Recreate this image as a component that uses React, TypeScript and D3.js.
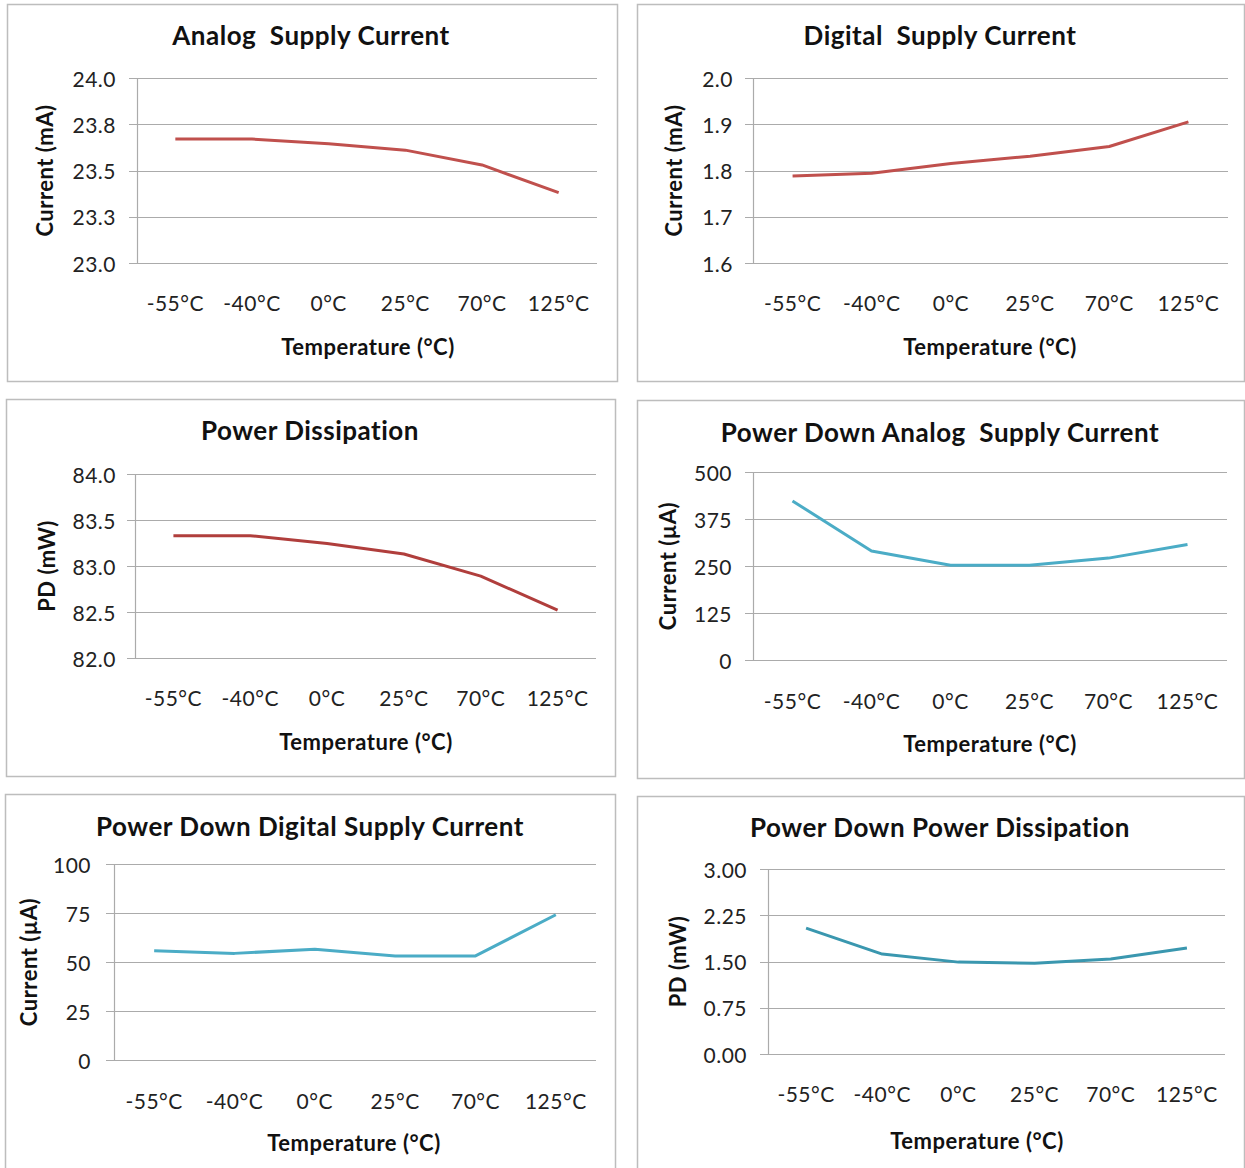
import React from "react";
import * as d3 from "d3";

// categories (x axis)
const temps = ["-55°C", "-40°C", "0°C", "25°C", "70°C", "125°C"];

// series values
const analogCurrent = [23.67, 23.67, 23.645, 23.61, 23.53, 23.38];
const digitalCurrent = [1.788, 1.794, 1.815, 1.831, 1.852, 1.905];
const powerDiss = [83.33, 83.33, 83.245, 83.13, 82.89, 82.52];
const pdAnalogCurrent = [423, 290, 252, 252, 271, 307];
const pdDigitalCurrent = [55.8, 54.4, 56.5, 53.1, 53.1, 74.1];
const pdPowerDiss = [2.04, 1.62, 1.49, 1.47, 1.54, 1.72];

// y ticks and their labels
const analogTicks = [23.0, 23.25, 23.5, 23.75, 24.0];
const analogTickLabels = ["23.0", "23.3", "23.5", "23.8", "24.0"];
const digitalTicks = [1.6, 1.7, 1.8, 1.9, 2.0];
const digitalTickLabels = ["1.6", "1.7", "1.8", "1.9", "2.0"];
const powerTicks = [82.0, 82.5, 83.0, 83.5, 84.0];
const powerTickLabels = ["82.0", "82.5", "83.0", "83.5", "84.0"];
const pdAnalogTicks = [0, 125, 250, 375, 500];
const pdAnalogTickLabels = ["0", "125", "250", "375", "500"];
const pdDigitalTicks = [0, 25, 50, 75, 100];
const pdDigitalTickLabels = ["0", "25", "50", "75", "100"];
const pdPowerTicks = [0, 0.75, 1.5, 2.25, 3.0];
const pdPowerTickLabels = ["0.00", "0.75", "1.50", "2.25", "3.00"];

const FONT = "Lato, 'Open Sans', sans-serif";
const GRID = "#ABABAB";

type PanelProps = {
  frame: [number, number, number, number];
  plot: { l: number; r: number; t: number; b: number };
  title: string;
  titleX: number;
  titleY: number;
  yTitle: string;
  yTitleX: number;
  yLabelRight: number;
  xLabelY: number;
  xTitleX: number;
  xTitleY: number;
  ticks: number[];
  tickLabels: string[];
  values: number[];
  color: string;
};

const Panel = (p: PanelProps) => {
  const x = d3.scaleBand().domain(temps).range([p.plot.l, p.plot.r]).padding(0);
  const y = d3
    .scaleLinear()
    .domain([p.ticks[0], p.ticks[p.ticks.length - 1]])
    .range([p.plot.b, p.plot.t]);
  const line = d3
    .line<number>()
    .x((_, i) => (x(temps[i]) as number) + x.bandwidth() / 2)
    .y((d) => y(d));
  const midY = (p.plot.t + p.plot.b) / 2;

  return (
    <g>
      <rect
        x={p.frame[0] + 0.5}
        y={p.frame[1] + 0.5}
        width={p.frame[2]}
        height={p.frame[3]}
        fill="white"
        stroke="#BDBDBD"
        strokeWidth={1.5}
      />
      <text
        x={p.titleX}
        y={p.titleY}
        textAnchor="middle"
        dominantBaseline="central"
        fontFamily={FONT}
        fontWeight="bold"
        fontSize={26}
        letterSpacing={0.5}
        fill="#111"
        style={{ whiteSpace: "pre" }}
      >
        {p.title}
      </text>
      {p.ticks.map((t, i) => (
        <g key={t}>
          <line
            x1={p.plot.l - 8}
            x2={p.plot.r}
            y1={Math.round(y(t)) + 0.5}
            y2={Math.round(y(t)) + 0.5}
            stroke={GRID}
            strokeWidth={1.2}
          />
          <text
            x={p.yLabelRight}
            y={y(t)}
            textAnchor="end"
            dominantBaseline="central"
            fontFamily={FONT}
            fontSize={21}
            letterSpacing={0.5}
            fill="#222"
          >
            {p.tickLabels[i]}
          </text>
        </g>
      ))}
      <line
        x1={p.plot.l + 0.5}
        x2={p.plot.l + 0.5}
        y1={p.plot.t}
        y2={p.plot.b}
        stroke={GRID}
        strokeWidth={1.2}
      />
      {temps.map((c) => (
        <text
          key={c}
          x={(x(c) as number) + x.bandwidth() / 2}
          y={p.xLabelY}
          textAnchor="middle"
          dominantBaseline="central"
          fontFamily={FONT}
          fontSize={21}
          letterSpacing={0.5}
          fill="#222"
        >
          {c}
        </text>
      ))}
      <path
        d={line(p.values) || ""}
        fill="none"
        stroke={p.color}
        strokeWidth={3}
        strokeLinejoin="round"
      />
      <text
        x={p.xTitleX}
        y={p.xTitleY}
        textAnchor="middle"
        dominantBaseline="central"
        fontFamily={FONT}
        fontWeight="bold"
        fontSize={22}
        letterSpacing={0.5}
        fill="#111"
      >
        Temperature (°C)
      </text>
      <text
        transform={`translate(${p.yTitleX},${midY}) rotate(-90)`}
        textAnchor="middle"
        dominantBaseline="central"
        fontFamily={FONT}
        fontWeight="bold"
        fontSize={22}
        letterSpacing={0.5}
        fill="#111"
      >
        {p.yTitle}
      </text>
    </g>
  );
};

const App = () => {
  return (
    <svg
      width={1245}
      height={1168}
      style={{ position: "absolute", left: 0, top: 0, background: "white" }}
    >
      <Panel
        frame={[7, 4, 610, 377]}
        plot={{ l: 137, r: 597, t: 78, b: 263 }}
        title="Analog  Supply Current"
        titleX={311}
        titleY={35}
        yTitle="Current (mA)"
        yTitleX={44}
        yLabelRight={116}
        xLabelY={302}
        xTitleX={368}
        xTitleY={346}
        ticks={analogTicks}
        tickLabels={analogTickLabels}
        values={analogCurrent}
        color="#C0504D"
      />
      <Panel
        frame={[637, 4, 607, 377]}
        plot={{ l: 753, r: 1228, t: 78, b: 263 }}
        title="Digital  Supply Current"
        titleX={940}
        titleY={35}
        yTitle="Current (mA)"
        yTitleX={673}
        yLabelRight={733}
        xLabelY={302}
        xTitleX={990}
        xTitleY={346}
        ticks={digitalTicks}
        tickLabels={digitalTickLabels}
        values={digitalCurrent}
        color="#C0504D"
      />
      <Panel
        frame={[6, 399, 609, 377]}
        plot={{ l: 135, r: 596, t: 474, b: 658 }}
        title="Power Dissipation"
        titleX={310}
        titleY={430}
        yTitle="PD (mW)"
        yTitleX={46}
        yLabelRight={116}
        xLabelY={697}
        xTitleX={366}
        xTitleY={741}
        ticks={powerTicks}
        tickLabels={powerTickLabels}
        values={powerDiss}
        color="#B03E3C"
      />
      <Panel
        frame={[637, 400, 607, 378]}
        plot={{ l: 753, r: 1227, t: 472, b: 660 }}
        title="Power Down Analog  Supply Current"
        titleX={940}
        titleY={432}
        yTitle="Current (µA)"
        yTitleX={667}
        yLabelRight={732}
        xLabelY={700}
        xTitleX={990}
        xTitleY={743}
        ticks={pdAnalogTicks}
        tickLabels={pdAnalogTickLabels}
        values={pdAnalogCurrent}
        color="#4BACC6"
      />
      <Panel
        frame={[5, 794, 610, 380]}
        plot={{ l: 114, r: 596, t: 864, b: 1060 }}
        title="Power Down Digital Supply Current"
        titleX={310}
        titleY={826}
        yTitle="Current (µA)"
        yTitleX={28}
        yLabelRight={91}
        xLabelY={1100}
        xTitleX={354}
        xTitleY={1142}
        ticks={pdDigitalTicks}
        tickLabels={pdDigitalTickLabels}
        values={pdDigitalCurrent}
        color="#4BACC6"
      />
      <Panel
        frame={[637, 796, 607, 380]}
        plot={{ l: 768, r: 1225, t: 869, b: 1054 }}
        title="Power Down Power Dissipation"
        titleX={940}
        titleY={827}
        yTitle="PD (mW)"
        yTitleX={677}
        yLabelRight={747}
        xLabelY={1093}
        xTitleX={977}
        xTitleY={1140}
        ticks={pdPowerTicks}
        tickLabels={pdPowerTickLabels}
        values={pdPowerDiss}
        color="#3A97AF"
      />
    </svg>
  );
};

export default App;
